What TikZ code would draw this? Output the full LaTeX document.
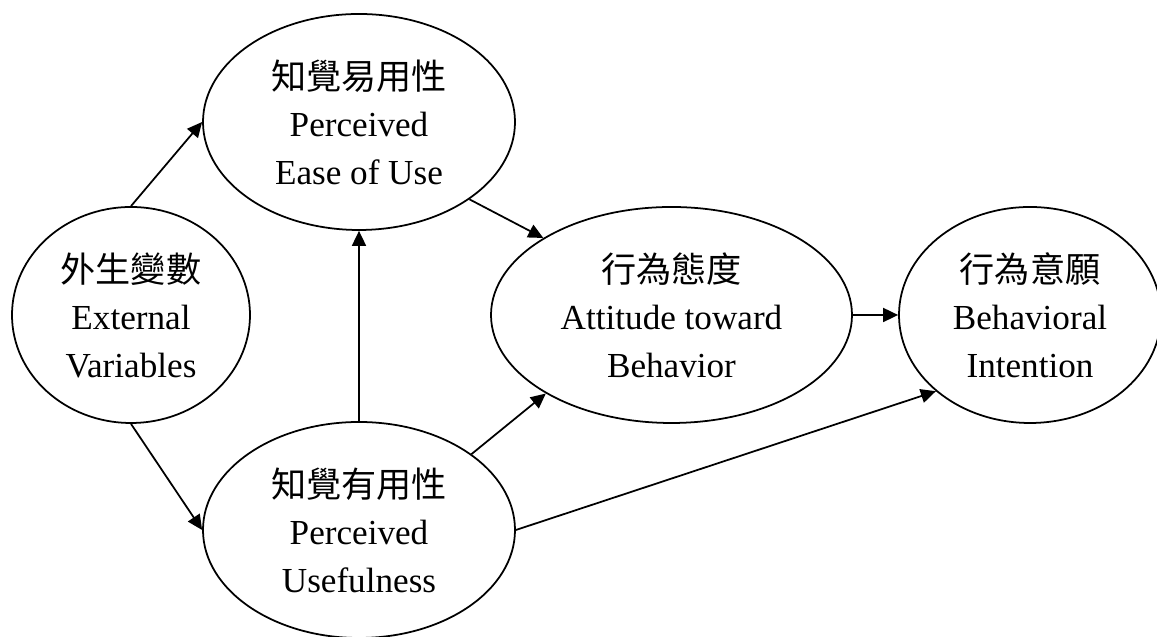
\documentclass[tikz,border=0pt]{standalone}
\usepackage{fontspec}
\setmainfont{Liberation Serif}
\newfontfamily\cjk{Noto Sans CJK TC}
\usetikzlibrary{shapes,arrows.meta,positioning}

\begin{document}
\begin{tikzpicture}[>={Triangle[length=0.3cm,width=0.28cm]},
  construct/.style={ellipse,draw,line width=1pt,inner sep=0pt,
    minimum height=4.32cm,align=center,
    font=\fontsize{20pt}{27pt}\selectfont},
  link/.style={->,line width=1pt}]
\useasboundingbox (0,0) rectangle (23.14,12.74);

%External Variables
\node[construct,minimum width=4.76cm] (ev) at (2.62,6.44) {
{\cjk 外生變數}\\External\\Variables
};

%PEOU
\node[construct,minimum width=6.24cm] (peou) at (7.18,10.30) {
{\cjk 知覺易用性}\\Perceived\\Ease of Use
};

%PU
\node[construct,minimum width=6.24cm] (pu) at (7.18,2.14) {
{\cjk 知覺有用性}\\Perceived\\Usefulness
};

%Attitude
\node[construct,minimum width=7.22cm] (atb) at (13.43,6.44) {
{\cjk 行為態度}\\Attitude toward\\Behavior
};

%Intention
\node[construct,minimum width=5.24cm] (bi) at (20.6,6.44) {
{\cjk 行為意願}\\Behavioral\\Intention
};

% arrows
\draw[link] (ev.north)--(peou.west);
\draw[link] (ev.south)--(pu.west);
\draw[link] (pu.north)--(peou.south);
\draw[link] (peou.-35)--(atb.149);
\draw[link] (pu.34)--(atb.-148);
\draw[link] (pu.east)--(bi.219);
\draw[link] (atb.east)--(bi.west);

\end{tikzpicture}
\end{document}
